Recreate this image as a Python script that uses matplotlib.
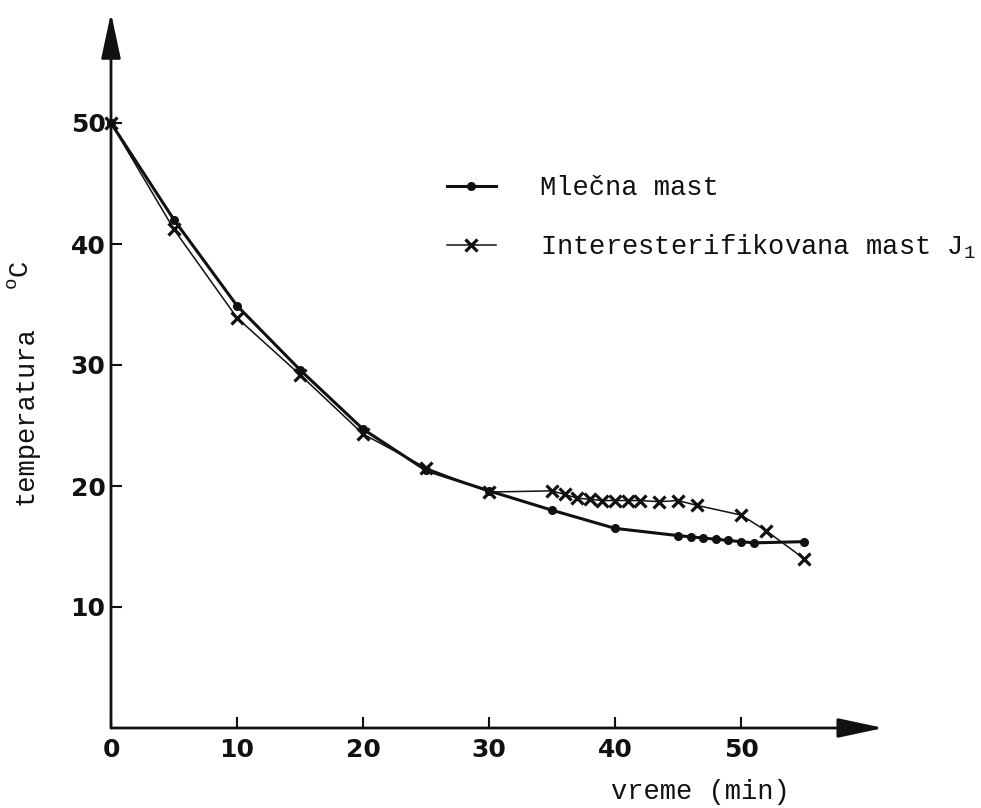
import matplotlib
matplotlib.use("Agg")
import matplotlib.pyplot as plt

plt.rcParams['mathtext.fontset'] = 'custom'
plt.rcParams['mathtext.rm'] = 'Liberation Mono'

# Data
time_mlecna = [0, 5, 10, 15, 20, 25, 30, 35, 40, 45, 46, 47, 48, 49, 50, 51, 55]
temp_mlecna = [50, 42.0, 34.9, 29.6, 24.7, 21.3, 19.6, 18.0, 16.5, 15.9, 15.8, 15.7, 15.6, 15.5, 15.4, 15.3, 15.4]

time_inter = [0, 5, 10, 15, 20, 25, 30, 35, 36, 37, 38, 39, 40, 41, 42, 43.5, 45, 46.5, 50, 52, 55]
temp_inter = [50, 41.2, 33.9, 29.2, 24.3, 21.5, 19.5, 19.6, 19.3, 19.0, 18.9, 18.8, 18.8, 18.8, 18.8, 18.7, 18.8, 18.4, 17.6, 16.3, 14.0]

label_mlecna = "Mlečna mast"
label_inter = r"Interesterifikovana mast J$_\mathregular{1}$"
x_ticks = [0, 10, 20, 30, 40, 50]
y_ticks = [10, 20, 30, 40, 50]

W, H = 981, 808
fig = plt.figure(figsize=(W / 100, H / 100), dpi=100)

x0_px, y0_px = 111, 728
px_x, px_y = 12.6, 12.1
x_max, y_max = 61.3, 59.1
ax = fig.add_axes([x0_px / W, (H - y0_px) / H, x_max * px_x / W, y_max * px_y / H])
ax.set_xlim(0, x_max)
ax.set_ylim(0, y_max)

ink = '#111111'
ax.plot(time_mlecna, temp_mlecna, color=ink, lw=2.2, marker='o', ms=5.5,
        label=label_mlecna, clip_on=False)
ax.plot(time_inter, temp_inter, color=ink, lw=1.1, marker='x', ms=9, mew=2.3,
        label=label_inter, clip_on=False)

for s in ['top', 'right', 'left', 'bottom']:
    ax.spines[s].set_visible(False)

# axes with arrows
for tip in [(1, 0), (0, 1)]:
    ax.annotate('', xy=tip, xytext=(0, 0), xycoords='axes fraction',
                arrowprops=dict(arrowstyle='-|>,head_length=1.4,head_width=0.3',
                                lw=2, color=ink, shrinkA=0, shrinkB=0,
                                mutation_scale=20), annotation_clip=False)

ax.set_xticks(x_ticks)
ax.set_yticks(y_ticks)
ax.tick_params(direction='in', length=8, width=1.5, color=ink,
               labelsize=18, labelcolor=ink)
ax.tick_params(axis='x', pad=7)
ax.tick_params(axis='y', pad=4)
for lbl in ax.get_xticklabels() + ax.get_yticklabels():
    lbl.set_fontfamily('DejaVu Sans')
    lbl.set_fontweight('bold')

mono = 'Liberation Mono'
fig.text(700 / W, 1 - 792 / H, 'vreme (min)', ha='center', va='center',
         fontsize=19.5, family=mono, color=ink)
fig.text(26 / W, 1 - 416 / H, 'temperatura', ha='center', va='center',
         rotation=90, fontsize=19.5, family=mono, color=ink)
fig.text(21 / W, 1 - 275 / H, r'$^\mathregular{o}$C', ha='center', va='center',
         rotation=90, fontsize=19.5, family=mono, color=ink)

leg = ax.legend(loc='upper left', bbox_to_anchor=(447 / W, 1 - 175 / H),
                bbox_transform=fig.transFigure, frameon=False,
                prop={'family': mono, 'size': 19.5}, handlelength=1.8,
                handletextpad=1.65, labelspacing=1.15, borderpad=0, borderaxespad=0,
                labelcolor=ink)

fig.savefig('out.png', dpi=100)
